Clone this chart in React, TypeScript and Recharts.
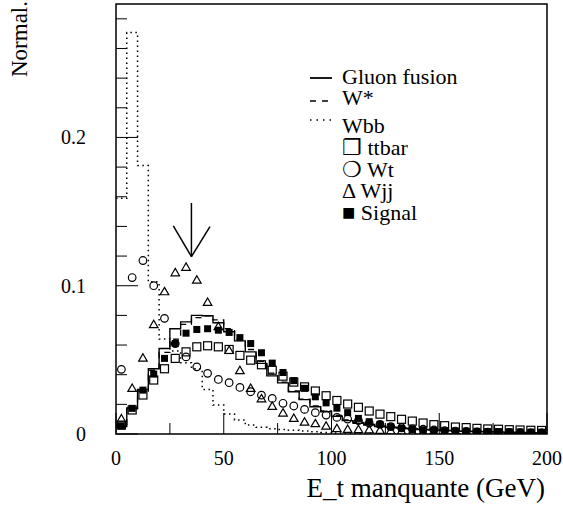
import { ComposedChart, Line, Scatter, XAxis, YAxis, ReferenceLine, ReferenceArea, Legend } from 'recharts'

const FONT = "'Liberation Serif', 'DejaVu Serif', serif"
const BIN_WIDTH = 5

// histogram contents, one value per 5 GeV bin from 0 to 200
const GLUON = [
  0.005, 0.0175, 0.03, 0.044, 0.0577, 0.071, 0.0756, 0.08, 0.0797, 0.075,
  0.069, 0.0628, 0.0554, 0.0476, 0.0392, 0.0345, 0.0285, 0.0232, 0.0184, 0.015,
  0.012, 0.009, 0.0072, 0.006, 0.005, 0.0045, 0.004, 0.0035, 0.003, 0.0027,
  0.0024, 0.0021, 0.0019, 0.0017, 0.0015, 0.0013, 0.0012, 0.001, 0.0009, 0.0008,
]
const WSTAR = [
  0.006, 0.017, 0.029, 0.043, 0.055, 0.064, 0.074, 0.0785, 0.0797, 0.077,
  0.071, 0.064, 0.057, 0.049, 0.041, 0.035, 0.029, 0.0235, 0.019, 0.0155,
  0.0125, 0.0095, 0.0078, 0.0065, 0.0055, 0.0047, 0.004, 0.0035, 0.003, 0.0027,
  0.0024, 0.0021, 0.0019, 0.0017, 0.0015, 0.0013, 0.0012, 0.001, 0.0009, 0.0008,
]
const WBB = [
  0.159, 0.2707, 0.181, 0.1026, 0.064, 0.056, 0.048, 0.044, 0.03, 0.0195,
  0.0135, 0.0095, 0.006, 0.0045, 0.0035, 0.003, 0.0025, 0.002, 0.0015, 0.001,
  0.0006, 0.0004, 0.0003, 0.0003, 0.0002, 0.0002, 0.0002, 0.0001, 0.0001, 0.0001,
  0.0001, 0.0001, 0.0001, 0.0001, 0.0001, 0.0001, 0.0001, 0.0001, 0.0001, 0.0001,
]
const TTBAR = [
  0.006, 0.0162, 0.0263, 0.0364, 0.044, 0.051, 0.0554, 0.0588, 0.0595, 0.0588,
  0.057, 0.053, 0.0498, 0.0467, 0.043, 0.039, 0.035, 0.0318, 0.029, 0.0258,
  0.0226, 0.0202, 0.018, 0.0155, 0.0134, 0.0117, 0.0099, 0.0087, 0.0074, 0.0063,
  0.0056, 0.0047, 0.0043, 0.0038, 0.0034, 0.0032, 0.0029, 0.0027, 0.0025, 0.0024,
]
const WT = [
  0.0436, 0.1055, 0.117, 0.1, 0.078, 0.061, 0.052, 0.0453, 0.0409, 0.0368,
  0.0346, 0.0314, 0.0285, 0.0262, 0.024, 0.0207, 0.0189, 0.0166, 0.0144, 0.0128,
  0.0112, 0.0101, 0.009, 0.0074, 0.0065, 0.005, 0.0042, 0.0035, 0.0032, 0.0027,
  0.0023, 0.002, 0.0017, 0.0015, 0.0013, 0.0011, 0.001, 0.0009, 0.0008, 0.0007,
]
const WJJ = [
  0.0105, 0.031, 0.0514, 0.074, 0.0962, 0.109, 0.1127, 0.104, 0.089, 0.0727,
  0.0566, 0.043, 0.031, 0.024, 0.0189, 0.0144, 0.0108, 0.0083, 0.0072, 0.0056,
  0.0039, 0.0034, 0.0032, 0.003, 0.0027, 0.0023, 0.002, 0.0017, 0.0015, 0.0013,
  0.0011, 0.001, 0.0009, 0.0008, 0.0007, 0.0006, 0.0005, 0.0005, 0.0004, 0.0004,
]
const SIGNAL = [
  0.0054, 0.0173, 0.0296, 0.0404, 0.051, 0.061, 0.068, 0.0705, 0.071, 0.07,
  0.0685, 0.065, 0.061, 0.0548, 0.0478, 0.0415, 0.036, 0.0308, 0.0251, 0.021,
  0.0174, 0.0144, 0.0105, 0.0083, 0.0065, 0.0049, 0.0038, 0.0032, 0.0027, 0.0025,
  0.0022, 0.002, 0.0019, 0.0018, 0.0017, 0.0016, 0.0015, 0.0014, 0.0013, 0.0012,
]

const X_TICKS = [0, 25, 50, 75, 100, 125, 150, 175, 200]
const Y_TICKS = [0, 0.02, 0.04, 0.06, 0.08, 0.1, 0.12, 0.14, 0.16, 0.18, 0.2, 0.22, 0.24, 0.26, 0.28]

// step lines: one point per bin edge, last edge repeats the last bin
const histData = GLUON.concat([GLUON[GLUON.length - 1]]).map((_, i) => {
  const k = Math.min(i, GLUON.length - 1)
  return { x: i * BIN_WIDTH, gluon: GLUON[k], wstar: WSTAR[k], wbb: WBB[k] }
})

// markers at bin centres
const markerData = TTBAR.map((_, i) => ({
  x: i * BIN_WIDTH + BIN_WIDTH / 2,
  ttbar: TTBAR[i],
  wt: WT[i],
  wjj: WJJ[i],
  signal: SIGNAL[i],
}))

const txt = (size: number) => ({ fontSize: size, fontFamily: FONT })

const OpenSquare = ({ cx, cy }: any) => (
  <rect x={cx - 4} y={cy - 4} width={8} height={8} fill="none" stroke="#000" strokeWidth={1.2} />
)
const OpenCircle = ({ cx, cy }: any) => <circle cx={cx} cy={cy} r={3.8} fill="none" stroke="#000" strokeWidth={1.2} />
const OpenTriangle = ({ cx, cy }: any) => (
  <path d={`M${cx},${cy - 4} L${cx + 4.3},${cy + 3.4} L${cx - 4.3},${cy + 3.4} Z`} fill="none" stroke="#000" strokeWidth={1.2} />
)
const FilledSquare = ({ cx, cy }: any) => <rect x={cx - 3.5} y={cy - 3.5} width={7} height={7} fill="#000" />

function XTick({ x, y, payload }: any) {
  const major = payload.value % 50 === 0
  return (
    <g>
      <line x1={x} x2={x} y1={y} y2={y - (major ? 21 : 11)} stroke="#000" strokeWidth={1} />
      {major && (
        <text x={x} y={y + 31} textAnchor="middle" style={txt(20)} fill="#000">
          {payload.value}
        </text>
      )}
    </g>
  )
}

function YTick({ x, y, payload }: any) {
  const v = payload.value
  const major = Math.abs(v * 10 - Math.round(v * 10)) < 1e-6
  return (
    <g>
      <line x1={x} x2={x + (major ? 22 : 11)} y1={y} y2={y} stroke="#000" strokeWidth={1} />
      {major && (
        <text x={x - 30} y={y + 7} textAnchor="end" style={txt(20)} fill="#000">
          {v === 0 ? '0' : v.toFixed(1)}
        </text>
      )}
    </g>
  )
}

function LegendBox() {
  const t = { style: txt(22), fill: '#000' }
  return (
    <svg width={200} height={170} style={{ display: 'block' }}>
      <line x1={10} x2={32} y1={18} y2={18} stroke="#000" strokeWidth={1.8} />
      <line x1={10} x2={32} y1={41} y2={41} stroke="#000" strokeWidth={1.5} strokeDasharray="6 6" />
      <line x1={10} x2={32} y1={60} y2={60} stroke="#000" strokeWidth={1.5} strokeDasharray="1.5 5" />
      <text x={42} y={24} {...t}>Gluon fusion</text>
      <text x={42} y={45} {...t}>W*</text>
      <text x={42} y={73} {...t}>Wbb</text>
      <text x={42} y={95} {...t}>❐ ttbar</text>
      <text x={42} y={117} {...t}>❍ Wt</text>
      <text x={42} y={138} {...t}>Δ Wjj</text>
      <text x={42} y={160} {...t}>■ Signal</text>
    </svg>
  )
}

export default function App() {
  return (
    <div style={{ position: 'absolute', left: 0, top: 0, background: '#fff', fontFamily: FONT }}>
      <ComposedChart width={563} height={508} margin={{ top: 4, right: 16, left: 0, bottom: 44 }} style={{ fontFamily: FONT }}>
        <XAxis
          dataKey="x"
          type="number"
          domain={[0, 200]}
          ticks={X_TICKS}
          interval={0}
          tickSize={0}
          tickMargin={0}
          tickLine={false}
          axisLine={false}
          tick={<XTick />}
          height={30}
          label={{
            content: () => (
              <text x={545} y={497} textAnchor="end" style={txt(27)} fill="#000">
                E_t manquante (GeV)
              </text>
            ),
          }}
        />
        <YAxis
          type="number"
          domain={[0, 0.29]}
          allowDataOverflow
          ticks={Y_TICKS}
          interval={0}
          tickSize={0}
          tickMargin={0}
          tickLine={false}
          axisLine={false}
          tick={<YTick />}
          width={116}
          label={{
            content: () => (
              <text x={27} y={39} transform="rotate(-90 27 39)" textAnchor="middle" style={txt(23)} fill="#000">
                Normal.
              </text>
            ),
          }}
        />
        <ReferenceArea x1={0} x2={200} y1={0} y2={0.29} fill="none" stroke="#000" strokeWidth={1.5} fillOpacity={0} />
        <Line data={histData} dataKey="wbb" type="stepAfter" stroke="#000" strokeWidth={1.5} strokeDasharray="1.5 3.5" dot={false} isAnimationActive={false} />
        <Line data={histData} dataKey="wstar" type="stepAfter" stroke="#000" strokeWidth={1.3} strokeDasharray="6 5" dot={false} isAnimationActive={false} />
        <Line data={histData} dataKey="gluon" type="stepAfter" stroke="#000" strokeWidth={1.4} dot={false} isAnimationActive={false} />
        <Scatter data={markerData} dataKey="signal" shape={<FilledSquare />} isAnimationActive={false} />
        <Scatter data={markerData} dataKey="ttbar" shape={<OpenSquare />} isAnimationActive={false} />
        <Scatter data={markerData} dataKey="wt" shape={<OpenCircle />} isAnimationActive={false} />
        <Scatter data={markerData} dataKey="wjj" shape={<OpenTriangle />} isAnimationActive={false} />
        <ReferenceLine segment={[{ x: 35, y: 0.1558 }, { x: 35, y: 0.1196 }]} stroke="#000" strokeWidth={1.5} />
        <ReferenceLine segment={[{ x: 26.6, y: 0.1403 }, { x: 35, y: 0.1196 }]} stroke="#000" strokeWidth={1.5} />
        <ReferenceLine segment={[{ x: 43.6, y: 0.1398 }, { x: 35, y: 0.1196 }]} stroke="#000" strokeWidth={1.5} />
        <Legend
          layout="horizontal"
          verticalAlign="middle"
          align="center"
          content={() => <LegendBox />}
          wrapperStyle={{ position: 'absolute', left: 300, top: 60, width: 200, height: 170 }}
        />
      </ComposedChart>
    </div>
  )
}
